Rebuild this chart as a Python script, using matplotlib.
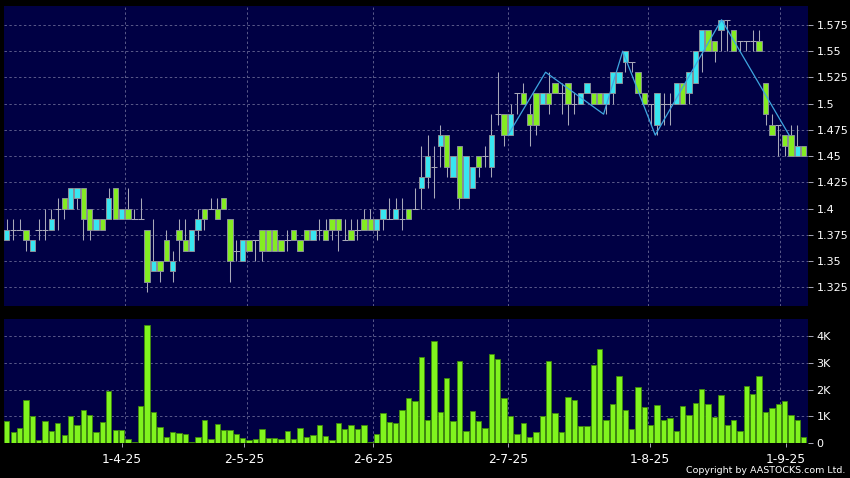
import matplotlib
matplotlib.use("Agg")
import matplotlib.pyplot as plt
import numpy as np

# ---------------- data ----------------
opens = [1.37,1.38,1.38,1.38,1.36,1.38,1.38,1.38,1.40,1.41,
         1.40,1.41,1.42,1.40,1.38,1.39,1.39,1.42,1.39,1.40,
         1.39,1.39,1.38,1.34,1.35,1.37,1.34,1.38,1.37,1.36,
         1.38,1.40,1.40,1.40,1.41,1.39,1.36,1.35,1.37,1.37,
         1.38,1.38,1.38,1.37,1.37,1.38,1.37,1.38,1.37,1.38,
         1.38,1.39,1.39,1.37,1.38,1.38,1.39,1.39,1.38,1.39,
         1.39,1.39,1.39,1.40,1.40,1.42,1.43,1.44,1.46,1.47,
         1.43,1.46,1.41,1.42,1.45,1.45,1.44,1.49,1.49,1.47,
         1.51,1.51,1.49,1.51,1.50,1.51,1.52,1.51,1.52,1.50,
         1.50,1.51,1.51,1.51,1.50,1.51,1.52,1.54,1.54,1.53,
         1.51,1.50,1.48,1.50,1.50,1.50,1.52,1.51,1.52,1.55,
         1.57,1.56,1.57,1.58,1.57,1.56,1.56,1.56,1.56,1.52,
         1.48,1.48,1.47,1.47,1.45,1.46]
highs = [1.39,1.39,1.39,1.38,1.37,1.39,1.40,1.40,1.41,1.41,
         1.42,1.42,1.42,1.40,1.39,1.39,1.42,1.42,1.40,1.42,
         1.40,1.41,1.38,1.39,1.35,1.38,1.36,1.39,1.39,1.38,
         1.40,1.40,1.41,1.41,1.41,1.39,1.37,1.37,1.37,1.37,
         1.38,1.38,1.38,1.37,1.38,1.38,1.37,1.38,1.38,1.39,
         1.39,1.39,1.39,1.39,1.39,1.39,1.40,1.40,1.39,1.40,
         1.41,1.41,1.41,1.40,1.42,1.46,1.47,1.46,1.48,1.47,
         1.45,1.46,1.45,1.44,1.45,1.46,1.49,1.53,1.49,1.50,
         1.51,1.52,1.50,1.51,1.51,1.53,1.52,1.52,1.52,1.51,
         1.51,1.52,1.51,1.51,1.51,1.53,1.53,1.55,1.54,1.53,
         1.51,1.50,1.51,1.51,1.51,1.52,1.52,1.53,1.55,1.57,
         1.57,1.56,1.58,1.58,1.57,1.56,1.56,1.57,1.57,1.52,
         1.49,1.48,1.47,1.48,1.48,1.46]
lows = [1.37,1.37,1.38,1.36,1.36,1.37,1.37,1.38,1.38,1.39,
        1.40,1.40,1.37,1.37,1.38,1.38,1.39,1.39,1.39,1.39,
        1.39,1.39,1.32,1.34,1.33,1.35,1.33,1.35,1.36,1.36,
        1.37,1.38,1.40,1.39,1.40,1.33,1.35,1.35,1.36,1.35,
        1.35,1.36,1.36,1.36,1.36,1.37,1.36,1.37,1.37,1.37,
        1.37,1.37,1.36,1.37,1.37,1.37,1.38,1.38,1.37,1.38,
        1.39,1.39,1.38,1.39,1.40,1.40,1.42,1.41,1.44,1.43,
        1.43,1.40,1.41,1.42,1.43,1.44,1.43,1.48,1.46,1.47,
        1.49,1.50,1.46,1.47,1.50,1.49,1.51,1.49,1.48,1.49,
        1.50,1.51,1.50,1.50,1.49,1.50,1.52,1.53,1.53,1.51,
        1.50,1.48,1.47,1.48,1.48,1.50,1.50,1.50,1.52,1.53,
        1.55,1.54,1.55,1.55,1.55,1.55,1.55,1.55,1.55,1.48,
        1.47,1.45,1.45,1.45,1.45,1.45]
closes = [1.38,1.38,1.38,1.37,1.37,1.38,1.38,1.39,1.40,1.40,
          1.42,1.42,1.39,1.38,1.39,1.38,1.41,1.39,1.40,1.39,
          1.39,1.39,1.33,1.35,1.34,1.35,1.35,1.37,1.36,1.38,
          1.39,1.39,1.40,1.39,1.40,1.35,1.36,1.37,1.36,1.37,
          1.36,1.36,1.36,1.36,1.37,1.37,1.36,1.37,1.38,1.38,
          1.37,1.38,1.38,1.37,1.37,1.38,1.38,1.38,1.39,1.40,
          1.39,1.40,1.39,1.39,1.40,1.43,1.45,1.44,1.47,1.44,
          1.45,1.41,1.45,1.44,1.44,1.45,1.47,1.49,1.47,1.49,
          1.51,1.50,1.48,1.48,1.51,1.50,1.51,1.51,1.50,1.50,
          1.51,1.52,1.50,1.50,1.51,1.53,1.53,1.55,1.54,1.51,
          1.50,1.50,1.51,1.50,1.50,1.52,1.50,1.53,1.55,1.57,
          1.55,1.55,1.58,1.58,1.55,1.56,1.56,1.56,1.55,1.49,
          1.47,1.48,1.46,1.45,1.46,1.45]
volumes_k = [0.83,0.43,0.56,1.60,1.01,0.14,0.82,0.46,0.74,0.32,
             1.01,0.67,1.24,1.06,0.42,0.79,1.93,0.50,0.48,0.16,
             0.05,1.40,4.39,1.16,0.59,0.22,0.43,0.40,0.35,0.06,
             0.24,0.87,0.17,0.72,0.51,0.48,0.35,0.21,0.11,0.16,
             0.52,0.19,0.19,0.16,0.45,0.17,0.56,0.24,0.30,0.67,
             0.28,0.11,0.77,0.52,0.70,0.52,0.70,0.06,0.35,1.13,
             0.80,0.74,1.24,1.67,1.58,3.22,0.88,3.80,1.15,2.43,
             0.83,3.08,0.47,1.19,0.82,0.57,3.33,3.14,1.67,1.02,
             0.36,0.77,0.22,0.42,1.02,3.05,1.14,0.42,1.71,1.62,
             0.63,0.63,2.91,3.50,0.85,1.46,2.50,1.24,0.53,2.09,
             1.35,0.69,1.41,0.87,0.93,0.47,1.40,1.06,1.50,2.04,
             1.46,0.97,1.79,0.67,0.88,0.46,2.13,1.83,2.50,1.18,
             1.32,1.47,1.56,1.05,0.87,0.23]
zigzag_x = [78.6, 84.5, 93.6, 96.6, 101.7, 112.1, 122.7]
zigzag_y = [1.47, 1.53, 1.49, 1.55, 1.47, 1.58, 1.47]

date_labels = ['1-4-25', '2-5-25', '2-6-25', '2-7-25', '1-8-25', '1-9-25']
date_pos = [18.1, 37.25, 57.5, 78.6, 100.9, 122.2]
grid_pos = [18.6, 37.6, 57.5, 78.6, 100.5, 121.3]
price_ticks = [1.325, 1.35, 1.375, 1.4, 1.425, 1.45, 1.475, 1.5, 1.525, 1.55, 1.575]
price_labels = ['1.325', '1.35', '1.375', '1.4', '1.425', '1.45', '1.475', '1.5', '1.525', '1.55', '1.575']
vol_ticks = [0, 1, 2, 3, 4]
vol_labels = ['0', '1K', '2K', '3K', '4K']

# ---------------- style ----------------
BG = '#000044'
UP = '#38e6f0'
DOWN = '#84ec22'
WICK = '#a8a8b8'
EDGE = '#8a9098'
GRID = '#5a5a8a'
VOL = '#80f41e'
VOL_EDGE = '#3f8a0c'
ZZ = '#3ea6e0'

plt.rcParams['font.family'] = ['DejaVu Sans']

W, H = 850, 478
fig = plt.figure(figsize=(W / 100, H / 100), dpi=100, facecolor='black')
ax1 = fig.add_axes([4 / W, 1 - 306 / H, 804 / W, 300 / H])
ax2 = fig.add_axes([4 / W, 1 - 443.3 / H, 804 / W, 124.3 / H])

n = len(closes)
x = np.arange(n)
o = np.array(opens); h = np.array(highs); l = np.array(lows); c = np.array(closes)
bw = 0.84

for ax in (ax1, ax2):
    ax.set_facecolor(BG)
    for s in ax.spines.values():
        s.set_visible(False)
    ax.set_xlim(-0.44, 125.66)
    for gx in grid_pos:
        ax.axvline(gx, color=GRID, lw=0.7, ls=(0, (2.5, 2.5)), zorder=0)

# price panel
ax1.set_ylim(1.3071, 1.5931)
for py in price_ticks:
    ax1.axhline(py, color=GRID, lw=0.7, ls=(0, (2.5, 2.5)), zorder=0)
ax1.vlines(x, l, h, color=WICK, lw=0.75, zorder=2)
up = c > o
dn = c < o
eq = c == o
ax1.bar(x[up], (c - o)[up], bottom=o[up], width=bw, color=UP, edgecolor=EDGE, lw=0.7, zorder=3)
ax1.bar(x[dn], (o - c)[dn], bottom=c[dn], width=bw, color=DOWN, edgecolor=EDGE, lw=0.7, zorder=3)
ax1.hlines(c[eq], x[eq] - 0.5, x[eq] + 0.5, color=WICK, lw=0.75, zorder=2)
ax1.plot(zigzag_x, zigzag_y, color=ZZ, lw=0.9, zorder=4)

ax1.yaxis.tick_right()
ax1.set_yticks(price_ticks)
ax1.set_yticklabels(price_labels)
ax1.tick_params(axis='y', colors=WICK, labelcolor='white', length=3.5, width=0.7,
                pad=2.5, labelsize=8.0, direction='out')
ax1.set_xticks([])

# volume panel
ax2.set_ylim(0, 4.63)
for vy in vol_ticks[1:]:
    ax2.axhline(vy, color=GRID, lw=0.7, ls=(0, (2.5, 2.5)), zorder=0)
ax2.bar(x, volumes_k, width=bw, color=VOL, edgecolor=VOL_EDGE, lw=0.6, zorder=3)
ax2.yaxis.tick_right()
ax2.set_yticks(vol_ticks)
ax2.set_yticklabels(vol_labels)
ax2.tick_params(axis='y', colors=WICK, labelcolor='white', length=3.5, width=0.7,
                pad=2.5, labelsize=8.0, direction='out')
ax2.set_xticks(date_pos)
ax2.set_xticklabels(date_labels)
ax2.tick_params(axis='x', colors=WICK, labelcolor='white', length=3, width=0.7,
                pad=4, labelsize=8.8, direction='out')

fig.text(845 / W, 1 - 470.5 / H, 'Copyright by AASTOCKS.com Ltd.', color='white',
         fontsize=6.8, ha='right', va='center')

fig.savefig('out.png', dpi=100, facecolor='black')
